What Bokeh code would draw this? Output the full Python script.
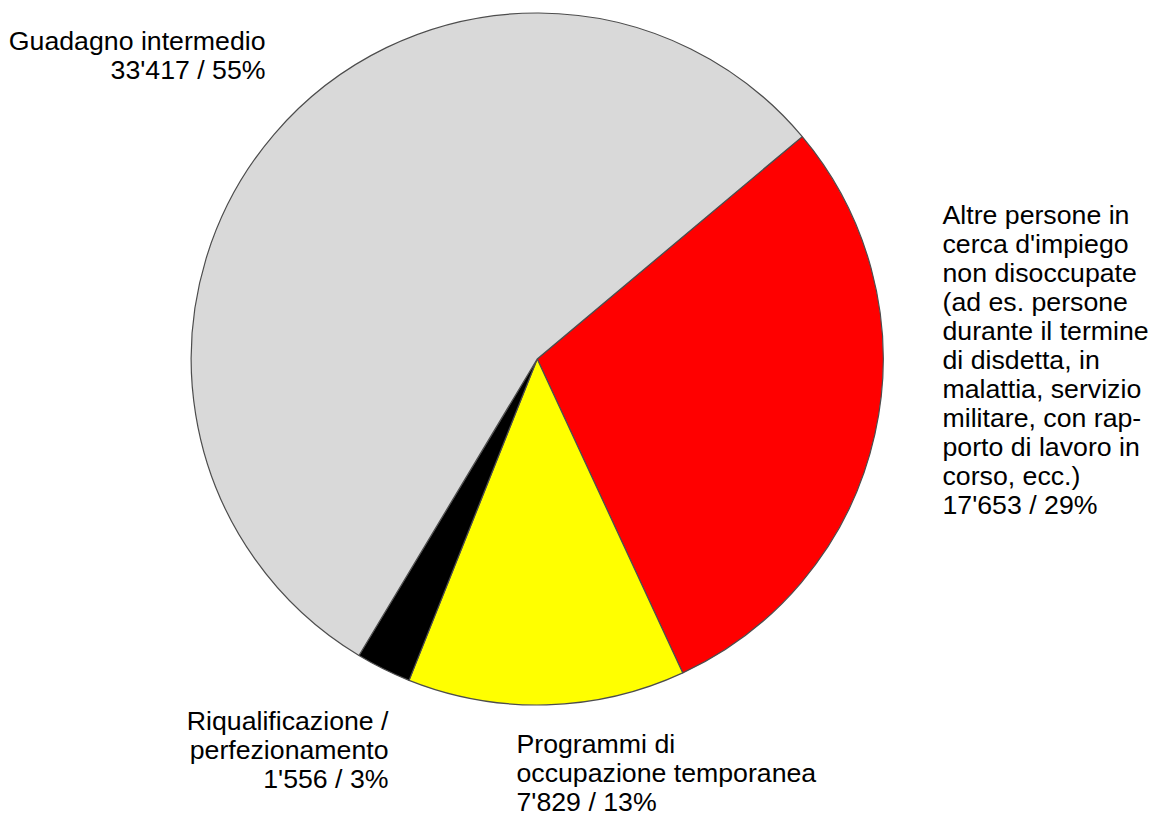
import math
from bokeh.plotting import figure
from bokeh.models import ColumnDataSource, Range1d
from bokeh.core.properties import value
from bokeh.embed import file_html
from bokeh.resources import INLINE

# ---- data (clockwise order starting at the gray/red boundary) ----
categories = [
    "Altre persone in cerca d'impiego non disoccupate",
    "Programmi di occupazione temporanea",
    "Riqualificazione / perfezionamento",
    "Guadagno intermedio",
]
values = [17653, 7829, 1556, 33417]
colors = ["#ff0000", "#ffff00", "#000000", "#d9d9d9"]
label_lines = [
    ["Altre persone in", "cerca d'impiego", "non disoccupate", "(ad es. persone",
     "durante il termine", "di disdetta, in", "malattia, servizio",
     "militare, con rap-", "porto di lavoro in", "corso, ecc.)"],
    ["Programmi di", "occupazione temporanea"],
    ["Riqualificazione /", "perfezionamento"],
    ["Guadagno intermedio"],
]

# ---- layout (screen pixels) ----
W, H = 1149, 816


def sx(x):
    return x


def sy(y):
    return H - y


cx, cy, R = 536.7, 358.5, 346.0
start_deg = 40.0
# label anchors: (x, first line y, align)
label_pos = [
    (942, 214, "left"),
    (516, 743, "left"),
    (388, 720, "right"),
    (265, 40, "right"),
]
LINE_H = 29.0
FONT_PX = "26.7px"

total = sum(values)

p = figure(width=W, height=H, output_backend="svg", toolbar_location=None,
           x_range=Range1d(0, W), y_range=Range1d(0, H),
           x_axis_location=None, y_axis_location=None, min_border=0)
p.outline_line_color = None
p.xgrid.visible = False
p.ygrid.visible = False
p.background_fill_color = "white"
p.border_fill_color = "white"

starts, ends = [], []
cum = 0.0
for v in values:
    before = cum
    cum += v / total
    ends.append(math.radians(start_deg - before * 360))
    starts.append(math.radians(start_deg - cum * 360))

src = ColumnDataSource(dict(x=[sx(cx)] * len(values), y=[sy(cy)] * len(values),
                            start=starts, end=ends, color=colors))
p.wedge(x="x", y="y", radius=R, start_angle="start", end_angle="end",
        fill_color="color", line_color="#4d4d4d", line_width=1.2, source=src)

tx, ty, tt, ta = [], [], [], []
for lines, v, (lx, ly, al) in zip(label_lines, values, label_pos):
    num = f"{v:,}".replace(",", "'")
    pct = round(v / total * 100)
    all_lines = lines + [f"{num} / {pct}%"]
    for i, line in enumerate(all_lines):
        tx.append(sx(lx))
        ty.append(sy(ly + i * LINE_H))
        tt.append(line)
        ta.append(al)

tsrc = ColumnDataSource(dict(x=tx, y=ty, text=tt, align=ta))
p.text(x="x", y="y", text="text", text_align="align", text_baseline="alphabetic",
       text_font=value("Liberation Sans"), text_font_size=FONT_PX,
       text_color="#000000", source=tsrc)

open("out.html", "w").write(file_html(p, INLINE))
